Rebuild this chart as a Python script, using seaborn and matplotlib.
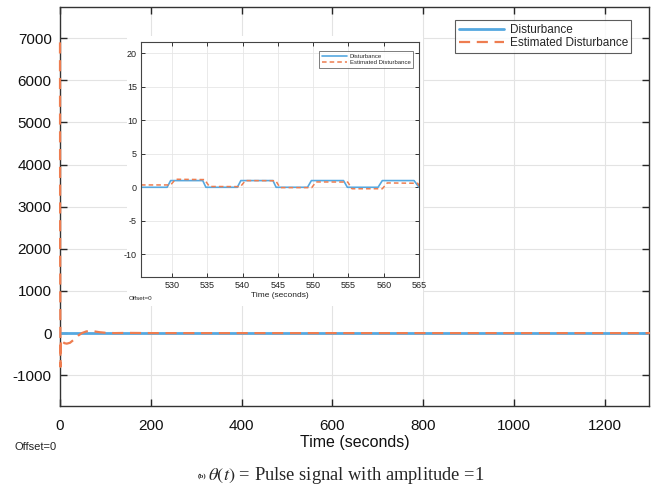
import matplotlib
matplotlib.use("Agg")
import matplotlib.pyplot as plt
from matplotlib.patches import Rectangle
import seaborn as sns

# ---- main plot data ----
main_t_dist = [0, 1300]
main_dist = [0, 0]
main_t_est = [0, 0.3, 1.0, 2, 5, 10, 15, 22, 30, 40, 48, 58, 66, 76, 88, 100, 120, 150, 200, 300, 1300]
main_est = [6900, 2000, -800, -150, -200, -240, -250, -230, -160, -60, 0, 40, 50, 40, 20, 8, 0, 5, 0, 0, 0]

# ---- inset data ----
ins_t_dist = [525.6, 529.3, 529.8, 534.35, 534.8, 539.25, 539.75, 544.3, 544.75,
              549.2, 549.75, 554.3, 554.85, 559.2, 559.8, 564.3, 565.0]
ins_dist = [0, 0, 1, 1, 0, 0, 1, 1, 0, 0, 1, 1, 0, 0, 1, 1, 0]
ins_t_est = [525.6, 529.8, 530.5, 534.6, 535.3, 539.7, 540.4, 544.7, 545.3,
             549.8, 550.4, 554.9, 555.5, 559.8, 560.5, 564.8, 565.3]
ins_est = [0.35, 0.35, 1.2, 1.15, 0.12, 0.1, 1.0, 0.98, -0.05,
           -0.05, 0.8, 0.78, -0.22, -0.22, 0.65, 0.6, -0.2]

main_xticks = [0, 200, 400, 600, 800, 1000, 1200]
main_yticks = [-1000, 0, 1000, 2000, 3000, 4000, 5000, 6000, 7000]
ins_xticks = [530, 535, 540, 545, 550, 555, 560, 565]
ins_yticks = [-10, -5, 0, 5, 10, 15, 20]

BLUE = "#55a8e0"
ORANGE = "#ee7d50"

sns.set_style("ticks")
plt.rcParams["font.family"] = ["Liberation Sans", "DejaVu Sans"]
plt.rcParams["mathtext.fontset"] = "stix"

fig = plt.figure(figsize=(6.56, 4.87), dpi=100)
W, H = 656, 487

def fr(x0, y0, x1, y1):
    return [x0 / W, 1 - y1 / H, (x1 - x0) / W, (y1 - y0) / H]

ax = fig.add_axes(fr(60, 7, 649, 406))
sns.lineplot(x=main_t_dist, y=main_dist, ax=ax, color=BLUE, lw=2.0, sort=False,
             estimator=None, label="Disturbance", zorder=3)
sns.lineplot(x=main_t_est, y=main_est, ax=ax, color=ORANGE, lw=1.6, sort=False,
             estimator=None, label="Estimated Disturbance", linestyle=(0, (5, 3)),
             zorder=4, clip_on=False)
ax.set_xlim(0, 1298)
ax.set_ylim(-1730, 7740)
ax.set_xticks(main_xticks)
ax.set_yticks(main_yticks)
ax.set_yticklabels([str(v) for v in main_yticks])
ax.tick_params(direction="in", length=5, labelsize=11, top=True, right=True,
               colors="#262626", labelcolor="#111111", width=1)
ax.tick_params(axis="x", pad=9)
ax.tick_params(axis="y", pad=6)
ax.grid(True, color="#e3e3e3", lw=0.8)
for s in ax.spines.values():
    s.set_color("#333333")
    s.set_linewidth(1)
ax.set_xlabel("Time (seconds)", fontsize=11.5, labelpad=2, color="#111111")
ax.set_ylabel("")
leg = ax.legend(loc="upper right", bbox_to_anchor=(0.97, 0.967), fontsize=8.5,
                handlelength=3.8, frameon=True, fancybox=False, borderpad=0.3,
                labelspacing=0.15, handletextpad=0.5, borderaxespad=0)
leg.get_frame().set_edgecolor("#333333")
leg.get_frame().set_linewidth(0.8)

fig.text(14 / W, 1 - 447 / H, "Offset=0", fontsize=8, va="center", ha="left", color="#222222")

# white cover behind inset
fig.patches.append(Rectangle((127 / W, 1 - 306 / H), (423 - 127) / W, (306 - 36) / H,
                             transform=fig.transFigure, facecolor="white",
                             edgecolor="none", zorder=5))

ins = fig.add_axes(fr(141, 42, 419, 277), zorder=6)
sns.lineplot(x=ins_t_dist, y=ins_dist, ax=ins, color=BLUE, lw=1.2, sort=False,
             estimator=None, label="Disturbance")
sns.lineplot(x=ins_t_est, y=ins_est, ax=ins, color=ORANGE, lw=1.1, sort=False,
             estimator=None, label="Estimated Disturbance", linestyle=(0, (3, 2)))
ins.set_xlim(525.6, 565)
ins.set_ylim(-13.4, 21.7)
ins.set_xticks(ins_xticks)
ins.set_yticks(ins_yticks)
ins.set_yticklabels([str(v) for v in ins_yticks])
ins.tick_params(direction="in", length=3, labelsize=6.5, top=True, right=True,
                colors="#333333", labelcolor="#222222", width=0.7, pad=3)
ins.grid(True, color="#e6e6e6", lw=0.6)
for s in ins.spines.values():
    s.set_color("#444444")
    s.set_linewidth(0.8)
ins.set_xlabel("Time (seconds)", fontsize=6, labelpad=1, color="#222222")
ins.set_ylabel("")
l2 = ins.legend(loc="upper right", bbox_to_anchor=(0.98, 0.962), fontsize=4.3,
                handlelength=4.2, frameon=True, fancybox=False, borderpad=0.45,
                labelspacing=0.25, handletextpad=0.5, borderaxespad=0)
l2.get_frame().set_edgecolor("#444444")
l2.get_frame().set_linewidth(0.6)
fig.text(129 / W, 1 - 299 / H, "Offset=0", fontsize=4.5, va="center", ha="left",
         color="#222222", zorder=7)

# caption
fig.text(206 / W, 1 - 476 / H, "(b)", fontsize=5, va="center", ha="right",
         family=["Liberation Serif"], weight="bold")
fig.text(208 / W, 1 - 476 / H, r"$\theta(t)$ = Pulse signal with amplitude =1",
         fontsize=13.3, va="center", ha="left", family=["Liberation Serif"])

fig.savefig("out.png", dpi=100)
